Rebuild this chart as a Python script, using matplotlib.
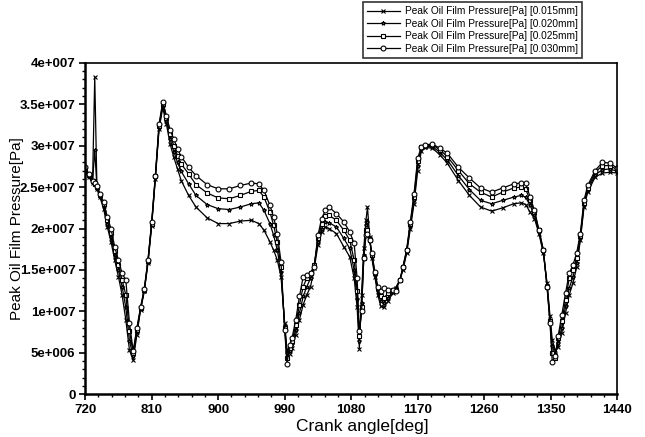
import numpy as np
import matplotlib
matplotlib.use("Agg")
import matplotlib.pyplot as plt
from matplotlib.ticker import MultipleLocator

plt.rcParams['font.family'] = ['Liberation Sans', 'DejaVu Sans']

# Crank angle [deg]
angle = [720, 725, 730, 733, 736, 740, 745, 750, 755, 760, 765, 770, 775, 780, 785,
         790, 795, 800, 805, 810, 815, 820, 825, 830, 835, 840, 845, 850, 860, 870,
         885, 900, 915, 930, 945, 955, 962, 970, 975, 980, 985, 990, 993, 997, 1000,
         1005, 1010, 1015, 1020, 1025, 1030, 1035, 1040, 1045, 1050, 1060, 1070, 1078,
         1084, 1088, 1091, 1094, 1097, 1100, 1102, 1105, 1108, 1112, 1116, 1120, 1124,
         1130, 1136, 1140, 1146, 1150, 1155, 1160, 1165, 1170, 1175, 1180, 1190, 1200,
         1210, 1225, 1240, 1255, 1270, 1285, 1300, 1310, 1316, 1322, 1328, 1334, 1340,
         1345, 1349, 1352, 1356, 1360, 1365, 1370, 1375, 1380, 1385, 1390, 1395, 1400,
         1410, 1420, 1430, 1440]

# Peak oil film pressure [MPa] for each clearance
p015 = [26.8, 26.2, 25.5, 38.3, 24.8, 23.8, 22.4, 20.2, 18.4, 16.2, 14.2, 12.0, 9.0, 5.3, 4.1,
        7.2, 10.2, 12.4, 15.8, 20.3, 26.0, 32.0, 34.6, 32.6, 30.2, 28.6, 27.2, 25.8, 24.0, 22.6,
        21.3, 20.6, 20.6, 20.9, 21.0, 20.6, 19.8, 18.4, 17.4, 16.2, 14.2, 8.6, 5.4, 4.9, 5.6,
        7.2, 9.0, 10.8, 12.0, 13.0, 15.2, 18.0, 19.6, 20.2, 20.0, 19.4, 17.8, 16.6,
        14.0, 10.5, 5.5, 12.0, 17.6, 21.0, 22.6, 19.0, 16.4, 14.2, 12.0, 10.6, 10.5,
        11.2, 12.2, 12.8, 13.8, 15.0, 17.0, 20.0, 23.0, 27.0, 29.4, 29.8, 29.7, 28.9,
        27.9, 25.8, 24.0, 22.6, 22.1, 22.5, 23.0, 23.1, 22.9, 22.0, 21.2, 19.4, 17.0,
        13.4, 9.4, 6.6, 5.3, 5.7, 7.4, 9.8, 12.0, 13.4, 15.3, 18.6, 22.6, 24.4,
        26.2, 26.7, 26.8, 26.7]
p020 = [27.0, 26.3, 25.6, 29.5, 24.9, 23.9, 22.7, 20.6, 19.0, 16.8, 15.0, 13.0, 10.5, 6.4, 4.6,
        7.5, 10.3, 12.5, 16.0, 20.5, 26.2, 32.2, 34.9, 33.0, 30.8, 29.3, 28.0, 26.9, 25.4, 24.0,
        22.9, 22.4, 22.3, 22.6, 23.0, 23.1, 22.2, 20.6, 19.2, 17.4, 14.8, 8.2, 5.0, 5.2, 6.0,
        7.8, 9.8, 11.8, 13.0, 14.0, 15.6, 18.4, 20.0, 20.8, 20.7, 20.2, 18.8, 17.6,
        15.0, 11.5, 6.4, 11.0, 16.8, 20.4, 20.8, 18.8, 16.6, 14.4, 12.4, 11.2, 11.0,
        11.6, 12.4, 12.8, 13.8, 15.2, 17.2, 20.3, 23.4, 27.6, 29.6, 29.9, 29.9, 29.2,
        28.3, 26.4, 24.7, 23.4, 23.0, 23.4, 23.8, 24.0, 23.8, 22.8, 21.6, 19.6, 17.2,
        13.2, 9.0, 5.8, 4.8, 6.2, 8.0, 10.6, 12.8, 14.2, 15.8, 18.8, 22.8, 24.6,
        26.5, 27.1, 27.2, 26.9]
p025 = [27.2, 26.5, 25.7, 25.4, 25.0, 24.1, 23.0, 21.0, 19.5, 17.3, 15.6, 13.8, 12.0, 7.6, 5.0,
        7.8, 10.4, 12.6, 16.1, 20.6, 26.3, 32.4, 35.1, 33.3, 31.4, 30.0, 28.8, 27.8, 26.6, 25.3,
        24.3, 23.7, 23.6, 24.0, 24.5, 24.6, 23.8, 22.0, 20.4, 18.4, 15.4, 8.0, 4.4, 5.6, 6.4,
        8.4, 10.8, 13.0, 14.0, 14.6, 15.6, 18.8, 20.6, 21.5, 21.6, 21.0, 19.8, 18.6,
        16.2, 12.5, 7.0, 10.5, 16.4, 19.8, 19.8, 18.6, 16.8, 14.6, 12.8, 11.8, 11.6,
        12.2, 12.6, 12.6, 13.8, 15.3, 17.4, 20.6, 23.8, 28.1, 29.8, 30.0, 30.1, 29.5,
        28.7, 27.0, 25.4, 24.4, 23.8, 24.4, 24.9, 25.0, 24.8, 23.4, 22.0, 19.8, 17.4,
        13.0, 8.8, 5.0, 4.4, 6.8, 8.8, 11.4, 14.0, 15.0, 16.4, 19.1, 23.1, 24.9,
        26.8, 27.6, 27.6, 27.1]
p030 = [27.4, 26.6, 25.8, 25.5, 25.1, 24.2, 23.2, 21.4, 20.0, 17.8, 16.2, 14.6, 13.8, 8.6, 5.2,
        8.0, 10.5, 12.7, 16.2, 20.8, 26.4, 32.6, 35.3, 33.6, 31.9, 30.8, 29.6, 28.7, 27.4, 26.4,
        25.3, 24.8, 24.8, 25.2, 25.5, 25.4, 24.6, 22.8, 21.4, 19.4, 16.0, 7.8, 3.7, 5.9, 6.8,
        9.0, 11.8, 14.2, 14.4, 14.6, 15.4, 19.2, 21.2, 22.2, 22.6, 21.8, 20.8, 19.6,
        18.2, 14.0, 7.6, 10.0, 16.4, 19.2, 19.4, 18.6, 17.0, 14.8, 13.0, 12.4, 12.8,
        12.6, 12.6, 12.5, 13.8, 15.4, 17.4, 20.8, 24.2, 28.5, 29.9, 30.1, 30.2, 29.7,
        29.1, 27.4, 26.1, 24.9, 24.4, 24.9, 25.4, 25.5, 25.5, 23.8, 22.2, 19.8, 17.4,
        12.9, 8.6, 3.9, 4.6, 7.0, 9.6, 12.2, 14.6, 15.6, 17.0, 19.4, 23.4, 25.2,
        27.0, 28.0, 27.9, 27.3]

series = [p015, p020, p025, p030]
labels = ["Peak Oil Film Pressure[Pa] [0.015mm]",
          "Peak Oil Film Pressure[Pa] [0.020mm]",
          "Peak Oil Film Pressure[Pa] [0.025mm]",
          "Peak Oil Film Pressure[Pa] [0.030mm]"]
markers = ['x', '*', 's', 'o']
msizes = [3.5, 3.0, 3.2, 3.5]

yticks = [0, 5e6, 1e7, 1.5e7, 2e7, 2.5e7, 3e7, 3.5e7, 4e7]
ytick_labels = ["0", "5e+006", "1e+007", "1.5e+007", "2e+007",
                "2.5e+007", "3e+007", "3.5e+007", "4e+007"]
xticks = [720, 810, 900, 990, 1080, 1170, 1260, 1350, 1440]

fig = plt.figure(figsize=(6.45, 4.37), dpi=100)
ax = fig.add_axes([0.132, 0.098, 0.825, 0.758])

x = np.array(angle)
for vals, lab, mk, ms in zip(series, labels, markers, msizes):
    ax.plot(x, np.array(vals) * 1e6, color='black', lw=0.9, marker=mk,
            markersize=ms, markerfacecolor='white', markeredgecolor='black',
            markeredgewidth=0.8, label=lab)

ax.set_xlim(720, 1440)
ax.set_ylim(0, 4e7)
ax.set_xticks(xticks)
ax.set_xticklabels([str(t) for t in xticks], fontsize=9.5, fontweight='bold')
ax.set_yticks(yticks)
ax.set_yticklabels(ytick_labels, fontsize=9.5, fontweight='bold')
ax.xaxis.set_minor_locator(MultipleLocator(18))
ax.yaxis.set_minor_locator(MultipleLocator(1e6))
ax.tick_params(which='major', direction='out', length=4, width=1.2, pad=3)
ax.tick_params(which='minor', direction='out', length=2.5, width=1)
for side in ['left', 'bottom']:
    ax.spines[side].set_linewidth(1.8)
for side in ['top', 'right']:
    ax.spines[side].set_linewidth(1.2)

ax.set_xlabel("Crank angle[deg]", fontsize=12.5)
ax.xaxis.set_label_coords(0.52, -0.075)
ax.set_ylabel("Peak Oil Film Pressure[Pa]", fontsize=11)
ax.yaxis.set_label_coords(-0.115, 0.5)

leg = fig.legend(loc='upper left', bbox_to_anchor=(0.563, 0.995), fontsize=7.3,
                 frameon=True, fancybox=False, edgecolor='black', handlelength=3.2,
                 borderpad=0.4, labelspacing=0.25, handletextpad=0.5, borderaxespad=0)
leg.get_frame().set_linewidth(1.2)

fig.savefig("out.png", dpi=100)
